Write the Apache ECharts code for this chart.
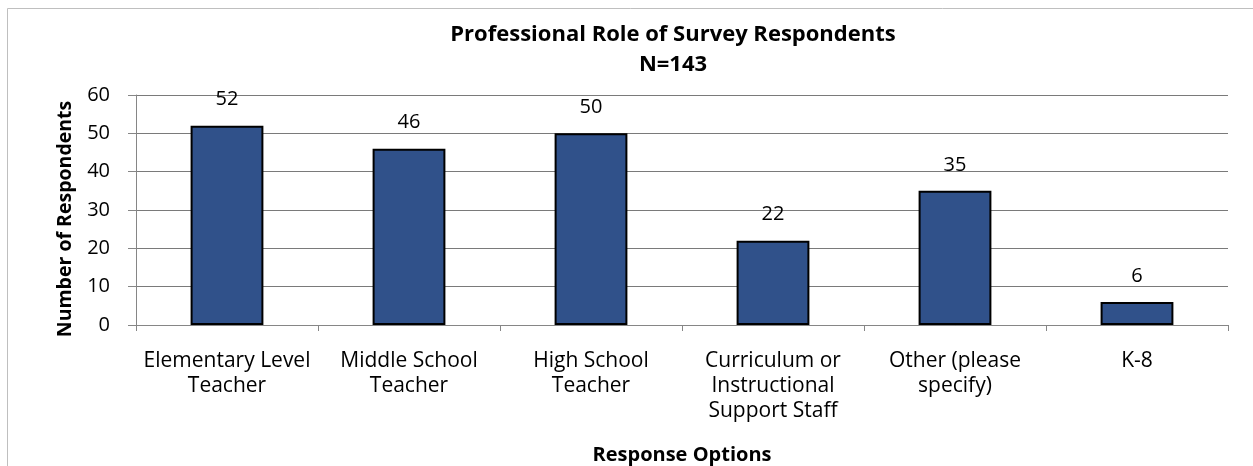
<!DOCTYPE html>
<html>
<head>
<meta charset="utf-8">
<script src="https://cdn.jsdelivr.net/npm/echarts@6/dist/echarts.min.js"></script>
<style>
html,body{margin:0;padding:0;background:#fff;}
#chart{width:1253px;height:466px;}
</style>
</head>
<body>
<div id="chart"></div>
<script>
const categories = [
  "Elementary Level\nTeacher",
  "Middle School\nTeacher",
  "High School\nTeacher",
  "Curriculum or\nInstructional\nSupport Staff",
  "Other (please\nspecify)",
  "K-8"
];
const respondents = [52, 46, 50, 22, 35, 6];
const yTicks = { min: 0, max: 60, interval: 10 };
const chartTitle = "Professional Role of Survey Respondents\nN=143";
const yName = "Number of Respondents";
const xName = "Response Options";

const FONT = "Open Sans";
const chart = echarts.init(document.getElementById('chart'), null, { renderer: 'canvas' });
chart.setOption({
  animation: false,
  backgroundColor: '#ffffff',
  title: {
    text: chartTitle,
    left: 668,
    top: 15,
    textAlign: 'center',
    textStyle: { fontFamily: FONT, fontWeight: 'bold', fontSize: 22, color: '#000', lineHeight: 30 }
  },
  graphic: [
    {
      type: 'rect', silent: true, z: -1,
      shape: { x: 7.5, y: 8.5, width: 1400, height: 600 },
      style: { fill: 'none', stroke: '#bfbfbf', lineWidth: 1 }
    },
    {
      type: 'text', silent: true,
      x: 65, y: 219, rotation: Math.PI / 2,
      style: {
        text: yName, fontFamily: FONT, fontWeight: 'bold', fontSize: 19.5,
        fill: '#000', align: 'center', verticalAlign: 'middle'
      }
    }
  ],
  grid: { left: 136, right: 25, top: 95, bottom: 140, containLabel: false },
  xAxis: {
    type: 'category',
    data: categories,
    name: xName,
    nameLocation: 'middle',
    nameGap: 130,
    nameTextStyle: { fontFamily: FONT, fontWeight: 'bold', fontSize: 20, color: '#000', verticalAlign: 'middle' },
    axisLine: { show: true, lineStyle: { color: '#868686', width: 1 } },
    axisTick: { show: true, alignWithLabel: false, length: 6, lineStyle: { color: '#868686' } },
    axisLabel: {
      interval: 0, margin: 24,
      fontFamily: FONT, fontSize: 21, color: '#000', lineHeight: 25
    },
    splitLine: { show: false }
  },
  yAxis: {
    type: 'value',
    min: yTicks.min, max: yTicks.max, interval: yTicks.interval,
    axisLine: { show: true, lineStyle: { color: '#868686', width: 1 } },
    axisTick: { show: true, length: 8, lineStyle: { color: '#868686' } },
    axisLabel: { margin: 26, fontFamily: FONT, fontSize: 20, color: '#000' },
    splitLine: { show: true, lineStyle: { color: '#7a7a7a', width: 1 } }
  },
  series: [{
    type: 'bar',
    data: respondents,
    barWidth: '40%',
    itemStyle: { color: '#30518a', borderColor: '#000', borderWidth: 2 },
    label: {
      show: true, position: 'top', distance: 16,
      fontFamily: FONT, fontSize: 20, color: '#000'
    }
  }]
});
</script>
</body>
</html>
